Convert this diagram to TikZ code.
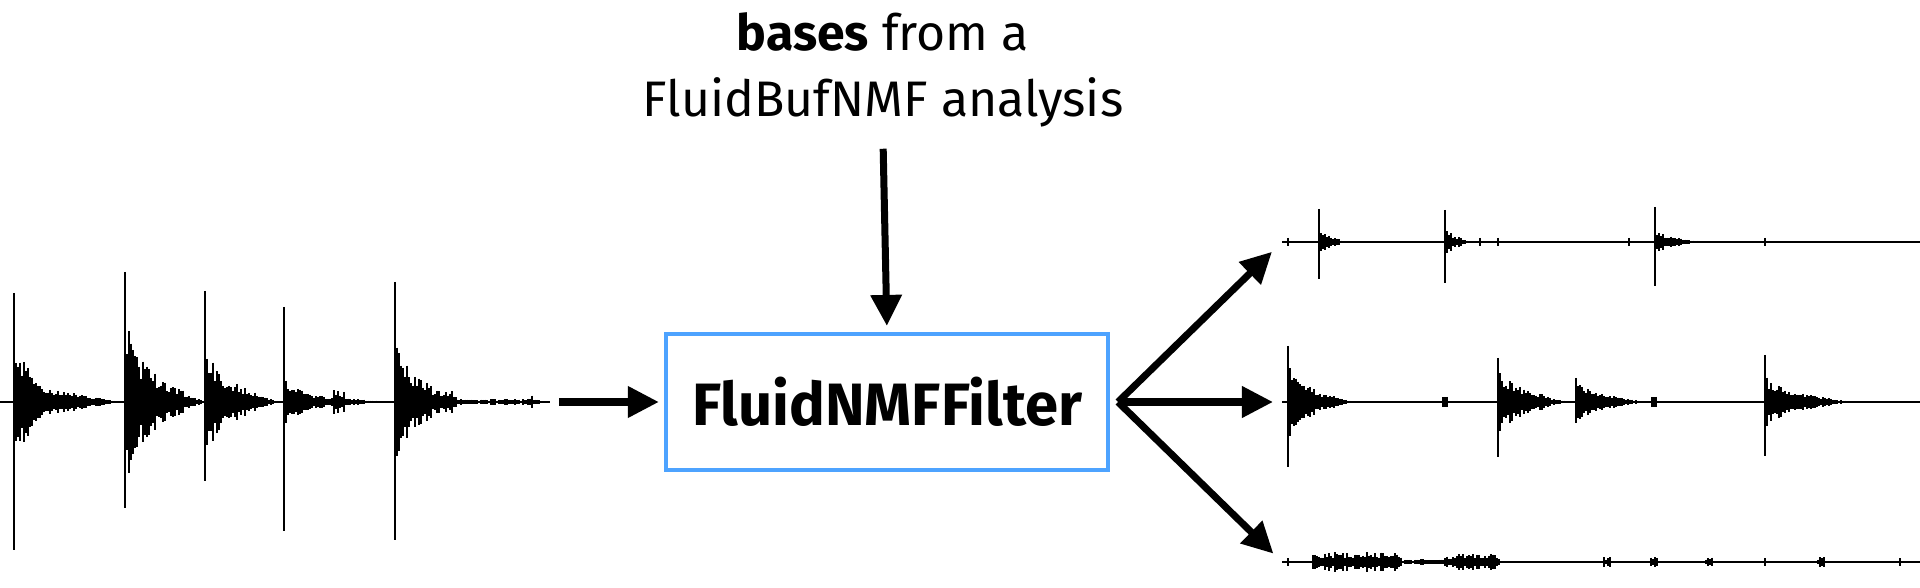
\documentclass[tikz,border=0pt]{standalone}
\usepackage{fontspec}
\setmainfont{Fira Sans}
\usepackage{tikz}
\usetikzlibrary{arrows.meta, positioning}
\definecolor{azul}{RGB}{77,163,255}
\tikzstyle{filtro} = [rectangle, minimum width=4.42cm, minimum height=1.36cm, align=center, draw=azul, line width=0.04cm, font=\fontsize{17}{20}\selectfont\bfseries]
\tikzstyle{texto} = [align=center, font=\fontsize{14.2}{18.8}\selectfont]
\tikzstyle{flecha} = [line width=0.07cm, -{Triangle[length=0.31cm,width=0.30cm]}]
\tikzstyle{linea} = [line width=0.5pt]
% golpe: x0, base, spike top, spike bottom, fast amp, slow amp, length
\newcommand{\golpe}[7]{%
  \draw[line width=0.7pt] (#1,#3) -- (#1,#4);
  \foreach \k in {0,2,...,#7} {
    \pgfmathsetmacro{\a}{(#5*exp(-\k/12)+#6*(1-\k/#7))*(0.5+0.5*rnd)}
    \draw[line width=0.022cm] (#1+\k,#2-\a) -- (#1+\k,#2+\a);
  }
}
% ruido: from, to, base, amp
\newcommand{\ruido}[4]{%
  \pgfmathsetmacro{\ini}{#1}
  \pgfmathtruncatemacro{\largo}{#2-(#1)}
  \foreach \k in {0,2,...,\largo} {
    \pgfmathsetmacro{\a}{#4*(0.4+0.6*rnd)}
    \draw[line width=0.022cm] (\ini+\k,#3-\a) -- (\ini+\k,#3+\a);
  }
}

\begin{document}
\begin{tikzpicture}[x=0.01cm, y=-0.01cm]
    \pgfmathsetseed{7}
    \useasboundingbox (0,0) rectangle (1920,588);

    \node (filtro) [filtro] at (887,402) {FluidNMFFilter};
    \node (bases) [texto] at (883,70) {\textbf{bases} from a\\FluidBufNMF analysis};

    % entrada
    \draw[linea] (0,402) -- (550,402);
    \golpe{14}{402}{293}{550}{60}{18}{110}
    \golpe{125}{402}{272}{508}{50}{40}{80}
    \golpe{205}{402}{291}{481}{35}{28}{75}
    \golpe{284}{402}{307}{531}{20}{9}{110}
    \golpe{395}{402}{282}{540}{30}{35}{62}
    \ruido{334}{344}{402}{12}
    \ruido{444}{456}{402}{11}
    \ruido{457}{540}{402}{3}
    \ruido{528}{532}{402}{7}
    \coordinate (wentrada) at (552,402);

    % salidas
    \draw[linea] (1282,242) -- (1920,242);
    \golpe{1319}{242}{209}{279}{8}{5}{26}
    \golpe{1445}{242}{210}{283}{8}{5}{26}
    \golpe{1655}{242}{207}{286}{8}{5}{52}
    \foreach \t in {1288,1480,1498,1629,1765} \draw[linea] (\t,238) -- (\t,246);

    \draw[linea] (1282,402) -- (1920,402);
    \golpe{1288}{402}{346}{467}{20}{18}{66}
    \golpe{1498}{402}{358}{457}{18}{18}{73}
    \golpe{1576}{402}{378}{423}{12}{14}{68}
    \golpe{1765}{402}{355}{456}{12}{15}{88}
    \foreach \t in {1445,1654} \draw[line width=1.5pt] (\t,397) -- (\t,407);

    \draw[linea] (1282,562) -- (1920,562);
    \ruido{1313}{1401}{562}{10}
    \ruido{1401}{1445}{562}{3}
    \ruido{1445}{1500}{562}{8}
    \foreach \t in {1607,1654,1709,1821} {\ruido{\t-3}{\t+3}{562}{5}}
    \foreach \t in {1288,1765,1900} \draw[linea] (\t,558) -- (\t,566);

    \coordinate (split) at (1118,402);
    \coordinate (wsup) at (1282,242);
    \coordinate (wmed) at (1282,402);
    \coordinate (winf) at (1282,562);

    \draw [flecha, shorten <=0.09cm, shorten >=0.06cm] (bases.south) -- (filtro.north);
    \draw [flecha, shorten <=0.07cm, shorten >=0.05cm] (wentrada) -- (filtro.west);
    \draw [flecha, shorten >=0.14cm] (split) -- (wsup);
    \draw [flecha, shorten >=0.09cm] (split) -- (wmed);
    \draw [flecha, shorten >=0.12cm] (split) -- (winf);
\end{tikzpicture}
\end{document}
